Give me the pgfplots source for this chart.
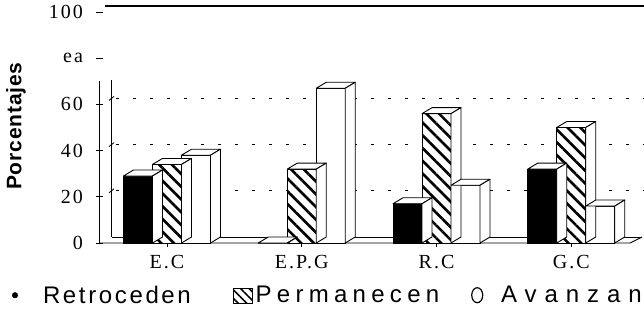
\documentclass[border=0pt]{standalone}
\usepackage{pgfplots}
\pgfplotsset{compat=1.18}
\usepackage{pgfplotstable}
\usepackage{fontspec}
\setmainfont{Liberation Serif}
\newfontfamily\tickfont[LetterSpace=10]{Liberation Serif}
\newfontfamily\legfont[LetterSpace=11]{Liberation Sans}
\newfontfamily\legwide[LetterSpace=22]{Liberation Sans}
\newfontfamily\legwider[LetterSpace=33]{Liberation Sans}
\newfontfamily\labfont[LetterSpace=4]{Liberation Sans}
\usetikzlibrary{patterns.meta}
\newcommand\tl[1]{\mbox{\tickfont\fontsize{20}{20}\selectfont #1}}
\pgfdeclareplotmark{nothing}{}
\newcommand\barfaces[1]{%
  \pgfmathsetmacro\hh{\val*2.31}%
  \filldraw[fill=white,draw=black,line width=0.9pt,line join=round]
    ({#1-14.5pt},0pt) -- ({#1+14.5pt},0pt) -- ({#1+24.5pt},6pt) -- ({#1-4.5pt},6pt) -- cycle;
  \filldraw[fill=white,draw=black,line width=0.9pt,line join=round]
    ({#1+14.5pt},0pt) -- ({#1+24.5pt},6pt) -- ({#1+24.5pt},{6pt-\hh pt}) -- ({#1+14.5pt},{-\hh pt}) -- cycle;
}
\pgfplotstableread{
x ret per ava
0 29 34 38
1 0 32 67
2 17 56 25
3 32 50 16
}\data
\pgfplotsset{
  faces/.style={scatter, only marks, mark=nothing, forget plot,
    visualization depends on={\thisrow{#1}\as\val},
    scatter/@post marker code/.code={}},
}
\begin{document}
\begin{tikzpicture}
\begin{axis}[
  name=ax,
  scale only axis, width=540pt, height=231pt,
  xmin=-0.497, xmax=3.51, ymin=0, ymax=100,
  clip=false,
  axis lines*=left,
  axis line style={draw=none},
  tick align=center,
  major tick length=7pt,
  tick style={black, line width=0.8pt},
  xtick={0,1,2,3},
  xticklabels={\tl{E.C},\tl{E.P.G},\tl{R.C},\tl{G.C}},
  xticklabel style={yshift=-5pt},
  ytick={0,20,40,60,80,100},
  yticklabels={\tl{0},\tl{20},\tl{40},\tl{60},\tl{ea},\tl{100}},
  yticklabel style={xshift=-10pt},
  ylabel={\labfont\bfseries\fontsize{21}{21}\selectfont Porcentajes},
  ylabel style={at={(axis description cs:-0.1556,0.506)}, anchor=center},
  legend style={draw=none, fill=none, at={(axis description cs:-0.18,-0.226)}, anchor=west,
    font=\legfont\fontsize{24}{24}\selectfont, legend columns=-1,
    /tikz/every even column/.append style={column sep=0pt},
    /tikz/every odd column/.append style={column sep=0pt}},
  legend cell align=left,
]
\addlegendimage{legend image code/.code={\fill (9pt,0pt) circle (2.8pt); \path[draw=none,fill=none] (0pt,-6pt) rectangle (35pt,6pt);}}
\addlegendentry{Retroceden}
\addlegendimage{legend image code/.code={\path[draw=none,fill=none] (0pt,-6pt) rectangle (56pt,6pt);
    \draw[line width=1pt, postaction={pattern={Lines[angle=-45,distance=6pt,line width=1.6pt]}}] (41pt,-8pt) rectangle (60pt,7pt);}}
\addlegendentry{\legwide Permanecen}
\addlegendimage{legend image code/.code={\draw[line width=1.2pt] (36pt,0pt) ellipse (5.5pt and 7.5pt); \path[draw=none,fill=none] (0pt,-6pt) rectangle (58pt,6pt);}}
\addlegendentry{\legwider Avanzan}
% floor and walls
\draw[line width=0.9pt] (axis cs:-0.497,0) -- ([xshift=-10pt]axis cs:3.51,0) -- ([xshift=2pt,yshift=6pt]axis cs:3.51,0);
\draw[line width=0.9pt] ([xshift=12pt,yshift=6pt]axis cs:-0.497,0) -- ([xshift=2pt,yshift=6pt]axis cs:3.51,0);
\draw[line width=1pt] (axis cs:-0.497,0) -- (axis cs:-0.497,70);
\draw[line width=1pt] ([xshift=12pt,yshift=6pt]axis cs:-0.497,0) -- ([xshift=12pt,yshift=6pt]axis cs:-0.497,68);
\pgfplotsinvokeforeach{20,40,60}{
  \draw[line width=1pt, dash pattern=on 3pt off 14pt] ([xshift=16pt,yshift=6pt]axis cs:-0.497,#1) -- ([xshift=4pt,yshift=6pt]axis cs:3.51,#1);
  \draw[line width=0.8pt] ([xshift=9pt,yshift=4pt]axis cs:-0.497,#1) -- ([xshift=14pt,yshift=8pt]axis cs:-0.497,#1);
}
\draw[line width=1.3pt] ([xshift=5pt,yshift=6pt]axis cs:-0.497,100) -- ([xshift=4pt,yshift=6pt]axis cs:3.51,100);
% Retroceden
\addplot[ybar, forget plot, bar width=29pt, bar shift=-29pt, fill=black, draw=black, line width=0.9pt]
  table[x=x,y=ret]{\data};
\addplot[faces=ret, scatter/@pre marker code/.code={\barfaces{-29pt}}] table[x=x,y=ret]{\data};
% Permanecen
\addplot[ybar, forget plot, bar width=29pt, bar shift=0pt, fill=white, draw=black, line width=0.9pt,
  postaction={pattern={Lines[angle=-45,distance=9pt,line width=2.6pt]}}]
  table[x=x,y=per]{\data};
\addplot[faces=per, scatter/@pre marker code/.code={\barfaces{0pt}}] table[x=x,y=per]{\data};
% Avanzan
\addplot[ybar, forget plot, bar width=29pt, bar shift=29pt, fill=white, draw=black, line width=0.9pt]
  table[x=x,y=ava]{\data};
\addplot[faces=ava, scatter/@pre marker code/.code={\barfaces{29pt}}] table[x=x,y=ava]{\data};
\end{axis}
\pgfresetboundingbox
\path ([xshift=-100pt,yshift=-68pt]ax.south west) rectangle ([xshift=4pt,yshift=12pt]ax.north east);
\end{tikzpicture}
\end{document}
